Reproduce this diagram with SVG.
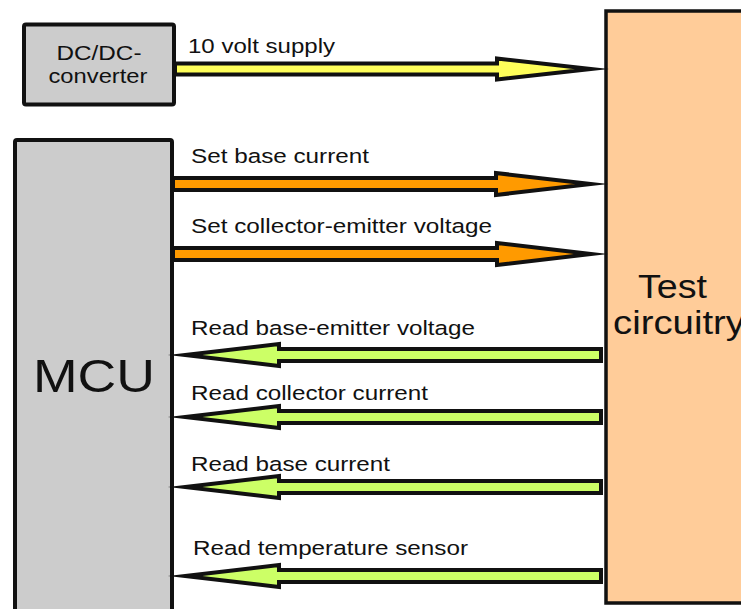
<svg xmlns="http://www.w3.org/2000/svg" width="741" height="609" viewBox="0 0 741 609">
<style>
.box{stroke:#111;stroke-width:4;stroke-linejoin:round}
.arr{stroke:#111;stroke-width:4;stroke-linejoin:miter;stroke-miterlimit:20}
.y{fill:#ffff5a}.o{fill:#ff9a00}.g{fill:#ccff66}
text{font-family:"Liberation Sans",Arial,sans-serif;fill:#111}
.lbl{font-size:20.5px}
</style>
<rect width="741" height="609" fill="#fff"/>
<g id="dcdc">
<rect class="box" x="24" y="24.5" width="150" height="80" rx="2" fill="#cccccc"/>
<text x="99" y="60" font-size="21" text-anchor="middle" textLength="85" lengthAdjust="spacingAndGlyphs">DC/DC-</text>
<text x="98" y="83" font-size="21" text-anchor="middle" textLength="99" lengthAdjust="spacingAndGlyphs">converter</text>
</g>
<g id="mcu">
<rect class="box" x="15" y="140" width="157" height="490" rx="2" fill="#cccccc"/>
<text x="33" y="392" font-size="47" textLength="122" lengthAdjust="spacingAndGlyphs">MCU</text>
</g>
<g id="test">
<rect x="606" y="11" width="160" height="592" fill="#ffcc99" stroke="#111" stroke-width="3.5"/>
<text x="638" y="298" font-size="33" textLength="69" lengthAdjust="spacingAndGlyphs">Test</text>
<text x="613" y="334" font-size="33" textLength="132" lengthAdjust="spacingAndGlyphs">circuitry</text>
</g>
<g id="connectors">
<polygon class="arr y" points="175,63.5 497,63.5 497,58.5 591,69 497,79.5 497,74.5 175,74.5"/>
<polygon class="arr o" points="173,178 496,178 496,173 591,184 496,195 496,190 173,190"/>
<polygon class="arr o" points="173,248 497,248 497,243 591,254 497,265 497,260 173,260"/>
<polygon class="arr g" points="601,349 279,349 279,344 185,355 279,366 279,361 601,361"/>
<polygon class="arr g" points="601,411 279,411 279,406 185,417 279,428 279,423 601,423"/>
<polygon class="arr g" points="601,481 279,481 279,476 185,487 279,498 279,493 601,493"/>
<polygon class="arr g" points="601,570 279,570 279,565 185,576 279,587 279,582 601,582"/>
</g>
<g id="labels" class="lbl">
<text x="188" y="53" textLength="147" lengthAdjust="spacingAndGlyphs">10 volt supply</text>
<text x="191" y="163" textLength="178" lengthAdjust="spacingAndGlyphs">Set base current</text>
<text x="191" y="233" textLength="301" lengthAdjust="spacingAndGlyphs">Set collector-emitter voltage</text>
<text x="191" y="335" textLength="284" lengthAdjust="spacingAndGlyphs">Read base-emitter voltage</text>
<text x="191" y="400" textLength="237" lengthAdjust="spacingAndGlyphs">Read collector current</text>
<text x="191" y="471" textLength="199" lengthAdjust="spacingAndGlyphs">Read base current</text>
<text x="193" y="555" textLength="275" lengthAdjust="spacingAndGlyphs">Read temperature sensor</text>
</g>
</svg>
